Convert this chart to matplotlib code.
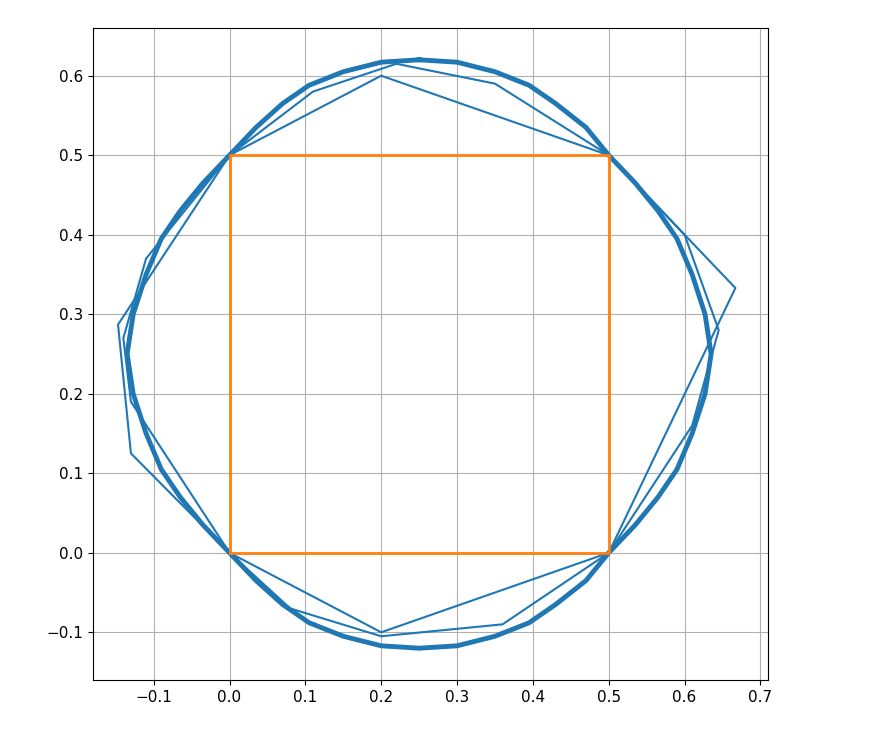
import matplotlib
matplotlib.use("Agg")
import matplotlib.pyplot as plt

square_x = [0, 0.5, 0.5, 0, 0]
square_y = [0, 0, 0.5, 0.5, 0]

coarse_x = [0, 0.2, 0.5, 0.667, 0.5, 0.2, 0, -0.13, -0.147, 0]
coarse_y = [0.5, 0.6, 0.5, 0.333, 0, -0.1, 0, 0.125, 0.287, 0.5]

mid_x = [0, 0.11, 0.22, 0.35, 0.5, 0.6, 0.645, 0.61, 0.5, 0.36, 0.2, 0.08, 0, -0.13, -0.14, -0.11, 0]
mid_y = [0.5, 0.58, 0.615, 0.59, 0.5, 0.4, 0.28, 0.16, 0, -0.09, -0.105, -0.07, 0, 0.19, 0.27, 0.37, 0.5]

fine_x = [0.25, 0.30, 0.35, 0.395, 0.43, 0.47, 0.5, 0.535, 0.565, 0.59, 0.61, 0.627, 0.635, 0.627, 0.61, 0.59,
          0.565, 0.535, 0.5, 0.47, 0.43, 0.395, 0.35, 0.30, 0.25, 0.20, 0.15, 0.105, 0.07, 0.035, 0,
          -0.035, -0.065, -0.09, -0.11, -0.127, -0.135, -0.127, -0.11, -0.09, -0.065, -0.035, 0,
          0.035, 0.07, 0.105, 0.15, 0.20, 0.25]
fine_y = [0.62, 0.617, 0.605, 0.588, 0.565, 0.535, 0.5, 0.465, 0.43, 0.395, 0.35, 0.30, 0.25, 0.20, 0.15, 0.105,
          0.07, 0.035, 0, -0.035, -0.065, -0.088, -0.105, -0.117, -0.12, -0.117, -0.105, -0.088, -0.065, -0.035, 0,
          0.035, 0.07, 0.105, 0.15, 0.20, 0.25, 0.30, 0.35, 0.395, 0.43, 0.465, 0.5,
          0.535, 0.565, 0.588, 0.605, 0.617, 0.62]

fig = plt.figure(figsize=(8.72, 7.48), dpi=100)
ax = fig.add_axes([93/872, 1-680/748, (768-93)/872, (680-28)/748])
blue = "#1f77b4"
ax.plot(coarse_x, coarse_y, color=blue, lw=1.5)
ax.plot(mid_x, mid_y, color=blue, lw=1.5)
ax.plot(fine_x, fine_y, color=blue, lw=3.5)
ax.plot(square_x, square_y, color="#ff7f0e", lw=2)
ax.set_xlim(-0.18, 0.71)
ax.set_ylim(-0.16, 0.66)
ax.set_xticks([-0.1, 0, 0.1, 0.2, 0.3, 0.4, 0.5, 0.6, 0.7])
ax.set_yticks([-0.1, 0, 0.1, 0.2, 0.3, 0.4, 0.5, 0.6])
ax.tick_params(labelsize=11)
ax.grid(True, color="#b0b0b0")
fig.savefig("out.png", dpi=100)
